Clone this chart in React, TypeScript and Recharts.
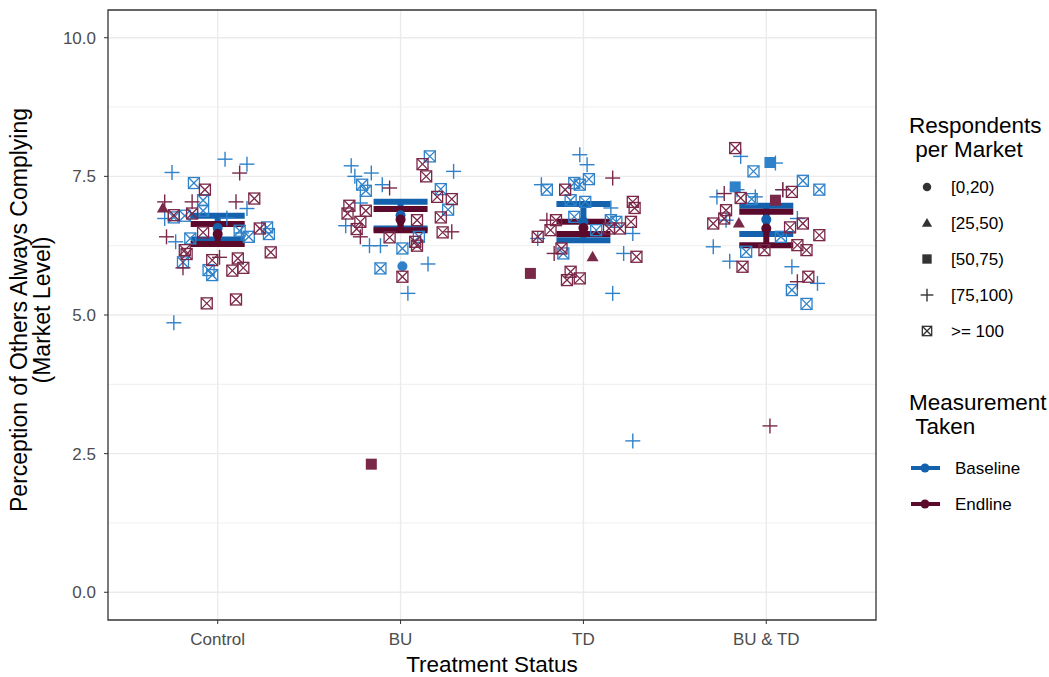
import React from "react";
import {
  CartesianGrid,
  ErrorBar,
  ReferenceArea,
  Scatter,
  ScatterChart,
  XAxis,
  YAxis,
} from "recharts";

const categories = ["Control", "BU", "TD", "BU & TD"];
const sizeBins = ["[0,20)", "[25,50)", "[50,75)", "[75,100)", ">= 100"];
const measurements = ["Baseline", "Endline"];
const yTicks = [0, 2.5, 5, 7.5, 10];
const yMinor = [1.25, 3.75, 6.25, 8.75];

// [measurement (0 baseline, 1 endline), size bin, jitter, value]
type Pt = [number, number, number, number];

const controlPoints: Pt[] = [
  [0, 3, 0.04, 7.81], [0, 3, 0.16, 7.72], [0, 3, -0.25, 7.57], [0, 3, 0.16, 6.92],
  [0, 3, -0.29, 6.74], [0, 3, -0.23, 6.32], [0, 3, -0.24, 4.86], [0, 3, 0.05, 6.75],
  [0, 3, 0.13, 6.48],
  [0, 4, -0.13, 7.38], [0, 4, -0.08, 7.07], [0, 4, -0.08, 6.88], [0, 4, -0.24, 6.76],
  [0, 4, -0.18, 6.79], [0, 4, 0.27, 6.58], [0, 4, 0.28, 6.46], [0, 4, 0.17, 6.41],
  [0, 4, 0.12, 6.52], [0, 4, -0.19, 5.95], [0, 4, -0.05, 5.81], [0, 4, -0.03, 5.72],
  [0, 4, -0.15, 6.38],
  [1, 3, 0.12, 7.56], [1, 3, -0.29, 7.04], [1, 3, -0.14, 7.04], [1, 3, 0.1, 7.04],
  [1, 3, -0.28, 6.41], [1, 3, -0.19, 5.85], [1, 3, 0.01, 6.04],
  [1, 1, -0.3, 6.93],
  [1, 4, -0.07, 7.26], [1, 4, 0.2, 7.1], [1, 4, 0.23, 6.56], [1, 4, 0.29, 6.13],
  [1, 4, -0.17, 6.1], [1, 4, -0.14, 6.83], [1, 4, -0.03, 5.99], [1, 4, 0.11, 6.02],
  [1, 4, 0.14, 5.85], [1, 4, 0.08, 5.8], [1, 4, -0.06, 5.21], [1, 4, 0.1, 5.28],
  [1, 4, -0.08, 6.49], [1, 4, -0.24, 6.8], [1, 4, -0.18, 6.17],
];

const buPoints: Pt[] = [
  [0, 3, -0.27, 7.69], [0, 3, -0.16, 7.56], [0, 3, -0.25, 7.5], [0, 3, 0.29, 7.59],
  [0, 3, -0.1, 7.35], [0, 3, -0.22, 7.02], [0, 3, -0.3, 6.61], [0, 3, -0.17, 6.25],
  [0, 3, -0.11, 6.25], [0, 3, 0.15, 5.92], [0, 3, 0.04, 5.39],
  [0, 4, 0.16, 7.86], [0, 4, -0.21, 7.35], [0, 4, -0.19, 7.24], [0, 4, 0.22, 7.27],
  [0, 4, 0.26, 6.9], [0, 4, 0.01, 6.2], [0, 4, -0.11, 5.84], [0, 4, 0.1, 6.41],
  [0, 0, 0.01, 5.88],
  [1, 3, -0.06, 7.29], [1, 3, 0.28, 6.5], [1, 3, -0.22, 6.41],
  [1, 4, 0.12, 7.72], [1, 4, 0.14, 7.5], [1, 4, 0.2, 7.13], [1, 4, 0.28, 7.09],
  [1, 4, -0.28, 6.97], [1, 4, -0.29, 6.83], [1, 4, -0.19, 6.88], [1, 4, -0.22, 6.68],
  [1, 4, -0.24, 6.55], [1, 4, 0.22, 6.76], [1, 4, 0.23, 6.49], [1, 4, -0.06, 6.4],
  [1, 4, 0.08, 6.32], [1, 4, 0.09, 6.25], [1, 4, 0.01, 5.69], [1, 4, 0.09, 6.71],
  [1, 2, -0.16, 2.31],
];

const tdPoints: Pt[] = [
  [0, 3, -0.02, 7.89], [0, 3, 0.02, 7.71], [0, 3, -0.23, 7.35], [0, 3, 0.15, 6.93],
  [0, 3, 0.27, 6.47], [0, 3, -0.25, 6.38], [0, 3, 0.22, 6.11], [0, 3, 0.16, 5.39],
  [0, 3, 0.27, 2.73],
  [0, 4, -0.2, 7.26], [0, 4, 0.03, 7.45], [0, 4, -0.05, 7.38], [0, 4, -0.02, 7.35],
  [0, 4, -0.07, 7.07], [0, 4, 0.01, 7.04], [0, 4, 0.07, 6.53], [0, 4, -0.05, 6.77],
  [0, 4, 0.15, 6.71], [0, 4, 0.18, 6.68], [0, 4, -0.11, 6.11],
  [1, 3, 0.16, 7.47], [1, 3, -0.2, 6.71], [1, 3, -0.16, 6.11],
  [1, 4, -0.1, 7.26], [1, 4, 0.27, 7.04], [1, 4, 0.28, 6.93], [1, 4, 0.26, 6.68],
  [1, 4, -0.25, 6.41], [1, 4, -0.18, 6.53], [1, 4, -0.15, 6.71], [1, 4, 0.14, 6.56],
  [1, 4, 0.2, 6.56], [1, 4, -0.12, 6.2], [1, 4, 0.29, 6.05], [1, 4, -0.07, 5.78],
  [1, 4, -0.09, 5.63], [1, 4, -0.02, 5.66],
  [1, 1, 0.05, 6.05],
  [1, 2, -0.29, 5.75],
];

const butdPoints: Pt[] = [
  [0, 3, -0.14, 7.86], [0, 3, 0.05, 7.74], [0, 3, -0.27, 7.13], [0, 3, -0.16, 7.26],
  [0, 3, -0.06, 7.13], [0, 3, 0.09, 7.26], [0, 3, -0.29, 6.23], [0, 3, -0.2, 5.97],
  [0, 3, 0.14, 5.87], [0, 3, 0.28, 5.57], [0, 3, -0.22, 6.71], [0, 3, 0.17, 6.74],
  [0, 2, 0.02, 7.75], [0, 2, -0.17, 7.31],
  [0, 4, -0.07, 7.59], [0, 4, 0.2, 7.42], [0, 4, 0.29, 7.26], [0, 4, -0.08, 7.09],
  [0, 4, -0.11, 6.14], [0, 4, 0.14, 5.45], [0, 4, 0.22, 5.2], [0, 4, 0.08, 6.41],
  [1, 3, 0.09, 7.26], [1, 3, -0.23, 7.19], [1, 3, 0.17, 5.6], [1, 3, 0.02, 3.0],
  [1, 2, 0.05, 7.07],
  [1, 4, -0.17, 8.01], [1, 4, 0.14, 7.22], [1, 4, -0.14, 7.11], [1, 4, -0.22, 6.89],
  [1, 4, -0.23, 6.74], [1, 4, -0.29, 6.65], [1, 4, 0.2, 6.65], [1, 4, 0.29, 6.44],
  [1, 4, 0.13, 6.58], [1, 4, 0.17, 6.26], [1, 4, 0.22, 6.17], [1, 4, -0.01, 6.17],
  [1, 4, -0.13, 5.87], [1, 4, 0.23, 5.69],
  [1, 1, -0.15, 6.66],
];

const pointsByTreatment = [controlPoints, buPoints, tdPoints, butdPoints];

// mean, lower, upper per treatment
const baselineSummary = [
  [6.57, 6.36, 6.79],
  [6.8, 6.56, 7.04],
  [6.68, 6.35, 7.0],
  [6.72, 6.46, 6.97],
];
const endlineSummary = [
  [6.46, 6.28, 6.64],
  [6.72, 6.53, 6.91],
  [6.57, 6.46, 6.68],
  [6.56, 6.26, 6.86],
];

const pointColors = ["#2f82c9", "#7a2848"];
const barColors = ["#1462ae", "#5b0a2c"];
const FONT = "'Liberation Sans', Arial, sans-serif";

function Marker({ cx, cy, bin, color, s = 1 }: { cx: number; cy: number; bin: number; color: string; s?: number }) {
  if (bin === 0) return <circle cx={cx} cy={cy} r={5 * s} fill={color} />;
  if (bin === 1)
    return (
      <polygon
        points={`${cx},${cy - 6 * s} ${cx - 6 * s},${cy + 4.5 * s} ${cx + 6 * s},${cy + 4.5 * s}`}
        fill={color}
      />
    );
  if (bin === 2) return <rect x={cx - 5.5 * s} y={cy - 5.5 * s} width={11 * s} height={11 * s} fill={color} />;
  if (bin === 3)
    return (
      <g stroke={color} strokeWidth={1.4}>
        <line x1={cx - 7.5 * s} x2={cx + 7.5 * s} y1={cy} y2={cy} />
        <line x1={cx} x2={cx} y1={cy - 7.5 * s} y2={cy + 7.5 * s} />
      </g>
    );
  const h = 5.5 * s;
  return (
    <g stroke={color} strokeWidth={1.3} fill="none">
      <rect x={cx - h} y={cy - h} width={2 * h} height={2 * h} />
      <line x1={cx - h} y1={cy - h} x2={cx + h} y2={cy + h} />
      <line x1={cx - h} y1={cy + h} x2={cx + h} y2={cy - h} />
    </g>
  );
}

function seriesData(m: number, bin: number) {
  const out: { x: number; y: number }[] = [];
  pointsByTreatment.forEach((pts, i) => {
    pts.forEach(([pm, pb, j, v]) => {
      if (pm === m && pb === bin) out.push({ x: i + 1 + j, y: v });
    });
  });
  return out;
}

function summaryData(summary: number[][]) {
  return summary.map(([mean, lo, hi], i) => ({ x: i + 1, y: mean, err: [mean - lo, hi - mean] }));
}

export default function App() {
  const scatterSeries: { m: number; bin: number }[] = [];
  [0, 1].forEach((m) => [0, 1, 2, 3, 4].forEach((bin) => scatterSeries.push({ m, bin })));

  return (
    <div style={{ position: "absolute", left: 0, top: 0, width: 1049, height: 677, background: "#fff" }}>
      <ScatterChart width={1049} height={677} margin={{ top: 10, right: 173, bottom: 27, left: 48 }}>
        <CartesianGrid horizontalValues={yMinor} vertical={false} stroke="#ebebeb" strokeWidth={0.8} />
        <CartesianGrid horizontalValues={yTicks} verticalValues={[1, 2, 3, 4]} stroke="#ebebeb" strokeWidth={1.4} />
        <XAxis
          type="number"
          dataKey="x"
          domain={[0.4, 4.6]}
          ticks={[1, 2, 3, 4]}
          tickFormatter={(v) => categories[v - 1]}
          axisLine={false}
          tickLine={{ stroke: "#333" }}
          tickSize={4}
          tickMargin={9}
          height={30}
          tick={{ fill: "#4d4d4d", fontSize: 17, fontFamily: FONT }}
          allowDataOverflow
        />
        <YAxis
          type="number"
          dataKey="y"
          domain={[-0.5, 10.5]}
          ticks={yTicks}
          tickFormatter={(v) => v.toFixed(1)}
          axisLine={false}
          tickLine={{ stroke: "#333" }}
          tickSize={4}
          tickMargin={8}
          width={60}
          tick={{ fill: "#4d4d4d", fontSize: 17, fontFamily: FONT }}
          allowDataOverflow
        />
        {scatterSeries.map(({ m, bin }) => (
          <Scatter
            key={`${m}-${bin}`}
            data={seriesData(m, bin)}
            isAnimationActive={false}
            opacity={0.8}
            shape={(p: any) => <Marker cx={p.cx} cy={p.cy} bin={bin} color={pointColors[m]} />}
          />
        ))}
        {[baselineSummary, endlineSummary].map((summary, m) => (
          <Scatter
            key={`sum-${m}`}
            data={summaryData(summary)}
            isAnimationActive={false}
            shape={(p: any) => <circle cx={p.cx} cy={p.cy} r={5} fill={barColors[m]} />}
          >
            <ErrorBar
              dataKey="err"
              direction="y"
              width={27}
              stroke={barColors[m]}
              strokeWidth={6}
              isAnimationActive={false}
            />
          </Scatter>
        ))}
        <ReferenceArea x1={0.4} x2={4.6} y1={-0.5} y2={10.5} fill="none" stroke="#333" strokeWidth={1.3} ifOverflow="visible" />
      </ScatterChart>

      <svg
        width={1049}
        height={677}
        style={{ position: "absolute", left: 0, top: 0, pointerEvents: "none" }}
        fontFamily={FONT}
      >
        <text x={492} y={672} textAnchor="middle" fontSize={22.5} fill="#000">
          Treatment Status
        </text>
        <g transform="translate(0,310) rotate(-90)">
          <text x={0} y={27} textAnchor="middle" fontSize={23} fill="#000">
            Perception of Others Always Complying
          </text>
          <text x={0} y={50} textAnchor="middle" fontSize={23} fill="#000">
            (Market Level)
          </text>
        </g>

        <text x={909} y={133} fontSize={22.5} fill="#000">Respondents</text>
        <text x={909} y={157} fontSize={22.5} fill="#000">{"\u00a0per Market"}</text>
        {sizeBins.map((label, i) => (
          <g key={label}>
            <Marker cx={927} cy={187 + i * 36} bin={i} color="#333" s={0.85} />
            <text x={951} y={193 + i * 36} fontSize={17} fill="#000">
              {label}
            </text>
          </g>
        ))}

        <text x={909} y={410} fontSize={22.5} fill="#000">Measurement</text>
        <text x={909} y={434} fontSize={22.5} fill="#000">{"\u00a0Taken"}</text>
        {measurements.map((label, i) => (
          <g key={label}>
            <line x1={911} x2={940} y1={468 + i * 36} y2={468 + i * 36} stroke={barColors[i]} strokeWidth={4} />
            <circle cx={925} cy={468 + i * 36} r={4.5} fill={barColors[i]} />
            <text x={955} y={474 + i * 36} fontSize={17} fill="#000">
              {label}
            </text>
          </g>
        ))}
      </svg>
    </div>
  );
}
